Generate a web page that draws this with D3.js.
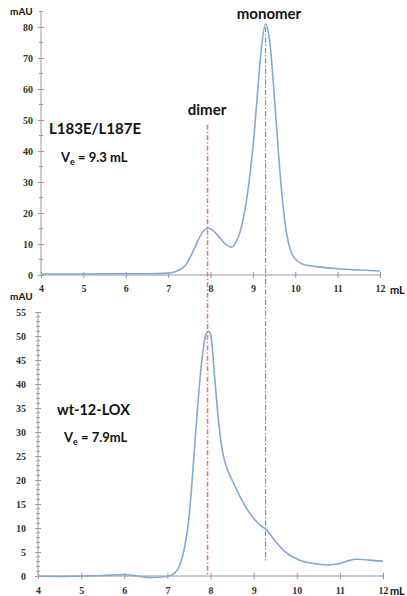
<!DOCTYPE html>
<html>
<head>
<meta charset="utf-8">
<script src="https://cdn.jsdelivr.net/npm/d3@7"></script>
<style>
  html, body { margin: 0; padding: 0; background: #fff; }
  svg { display: block; }
  .tick text { font-family: "Liberation Serif", "Times New Roman", serif; font-weight: bold; font-size: 10px; fill: #333; }
  .lab { font-family: Lato, "Open Sans", sans-serif; font-weight: bold; fill: #111; }
</style>
</head>
<body>
<script>
// Elution volume (mL) and absorbance (mAU) for the L183E/L187E mutant
const mutantVolume = [4.0, 5.0, 6.0, 6.5, 7.0, 7.2, 7.4, 7.55, 7.7, 7.8, 7.9, 7.95, 8.05, 8.2, 8.35, 8.5,
  8.6, 8.7, 8.8, 8.9, 9.0, 9.1, 9.2, 9.3, 9.4, 9.5, 9.6, 9.7, 9.8, 9.9, 10.0, 10.2, 10.5, 11.0, 11.5, 12.0];
const mutantAbs = [0.3, 0.3, 0.4, 0.4, 0.6, 1.2, 3.0, 6.5, 11.0, 13.5, 15.0, 15.1, 14.5, 12.3, 10.0, 9.0,
  10.5, 14, 20, 29, 41, 57, 73, 81, 75, 59, 40, 24, 13, 7.5, 5.2, 3.4, 2.7, 2.0, 1.6, 1.3];

// Elution volume (mL) and absorbance (mAU) for wild-type 12-LOX
const wtVolume = [4.0, 4.5, 5.0, 5.5, 6.0, 6.3, 6.6, 7.0, 7.15, 7.3, 7.4, 7.5, 7.6, 7.7, 7.8, 7.9, 7.95, 8.0,
  8.1, 8.2, 8.3, 8.4, 8.5, 8.7, 8.9, 9.1, 9.3, 9.5, 9.7, 9.9, 10.1, 10.4, 10.7, 11.0, 11.2, 11.4, 11.6, 11.8, 12.0];
const wtAbs = [0.0, -0.1, 0.0, 0.1, 0.3, 0.0, -0.3, -0.1, 0.5, 2.5, 6, 12, 23, 35, 45, 50.5, 51, 50.5,
  41, 31, 25, 22, 20, 16.3, 13.2, 11, 9.6, 7.3, 5.3, 4.0, 3.2, 2.6, 2.3, 2.6, 3.2, 3.5, 3.4, 3.2, 3.1];

// Axis ticks
const volumeTicks = [4, 5, 6, 7, 8, 9, 10, 11, 12];
const mutantMajorTicks = [0, 10, 20, 30, 40, 50, 60, 70, 80];
const mutantMinorTicks = [5, 15, 25, 35, 45, 55, 65, 75, 85];
const wtMajorTicks = [0, 5, 10, 15, 20, 25, 30, 35, 40, 45, 50, 55];
const wtMinorTicks = d3.range(0, 56).filter(v => v % 5 !== 0);

// Peak positions (mL)
const dimerVe = 7.93;
const monomerVe = 9.3;

const W = 407, H = 596;
const svg = d3.select("body").append("svg").attr("width", W).attr("height", H);

const axisColor = "#9a9a9a";
const lineColor = "#84a8d8";

function panel(cfg) {
  const x = d3.scaleLinear().domain([4, 12]).range(cfg.xRange);
  const y = d3.scaleLinear().domain([0, cfg.yMax]).range(cfg.yRange);
  const g = svg.append("g");

  // y axis: labelled major ticks and short minor ticks
  const yAx = g.append("g").attr("transform", `translate(${cfg.xRange[0]},0)`)
    .call(d3.axisLeft(y).tickValues(cfg.major).tickFormat(d3.format("d")).tickSize(3).tickPadding(cfg.yPad));
  yAx.select(".domain").remove();
  yAx.selectAll(".tick line").attr("x1", -3).attr("x2", 3).attr("stroke", axisColor);
  g.append("line").attr("x1", cfg.xRange[0]).attr("x2", cfg.xRange[0])
    .attr("y1", y(cfg.yTop)).attr("y2", y(0)).attr("stroke", axisColor);
  g.selectAll(".minor").data(cfg.minor.filter(v => v <= cfg.yTop)).join("line")
    .attr("x1", cfg.xRange[0] - 2).attr("x2", cfg.xRange[0] + 2)
    .attr("y1", d => y(d)).attr("y2", d => y(d)).attr("stroke", axisColor);

  // x axis with crossing ticks
  const xAx = g.append("g").attr("transform", `translate(0,${y(0)})`)
    .call(d3.axisBottom(x).tickValues(volumeTicks).tickFormat(d3.format("d")).tickSize(3).tickPadding(cfg.xPad));
  xAx.select(".domain").attr("stroke", axisColor).attr("d", `M${cfg.xRange[0]},0H${cfg.xRange[1]}`);
  xAx.selectAll(".tick line").attr("y1", -3).attr("y2", 3).attr("stroke", axisColor);

  // chromatogram trace
  const line = d3.line().x((d, i) => x(cfg.vol[i])).y(d => y(d)).curve(d3.curveMonotoneX);
  g.append("path").datum(cfg.abs).attr("d", line)
    .attr("fill", "none").attr("stroke", lineColor).attr("stroke-width", 1.6);

  // axis units
  g.append("text").attr("class", "lab").attr("x", cfg.mauX).attr("y", cfg.mauY)
    .attr("font-size", 10).text("mAU");
  g.append("text").attr("class", "lab").attr("x", cfg.xRange[1] + cfg.mlDx).attr("y", y(0) + cfg.mlDy)
    .attr("font-size", 11).text("mL");
  return { x, y };
}

const upper = panel({
  xRange: [41, 380], yRange: [275, 27], yMax: 80, yTop: 85,
  major: mutantMajorTicks, minor: mutantMinorTicks, vol: mutantVolume, abs: mutantAbs,
  yPad: 5, xPad: 7, mauX: 10, mauY: 15, mlDx: 10, mlDy: 19
});
const lower = panel({
  xRange: [38, 383], yRange: [576, 312], yMax: 55, yTop: 55,
  major: wtMajorTicks, minor: wtMinorTicks, vol: wtVolume, abs: wtAbs,
  yPad: 9, xPad: 8, mauX: 10, mauY: 300, mlDx: 7, mlDy: 19
});

// Dash-dot markers at the dimer and monomer elution volumes, spanning both panels
svg.append("line")
  .attr("x1", upper.x(dimerVe)).attr("x2", upper.x(dimerVe))
  .attr("y1", upper.y(48.5)).attr("y2", lower.y(0))
  .attr("stroke", "#e27d7d").attr("stroke-width", 1.6).attr("stroke-dasharray", "5,2,1.5,2");
svg.append("line")
  .attr("x1", upper.x(monomerVe)).attr("x2", upper.x(monomerVe))
  .attr("y1", upper.y(80)).attr("y2", lower.y(3))
  .attr("stroke", "#5aa85a").attr("stroke-width", 1.1).attr("stroke-dasharray", "5,2,1.5,2");

// Annotations
function label(x, y, size, txt, anchor) {
  return svg.append("text").attr("class", "lab").attr("x", x).attr("y", y)
    .attr("font-size", size).attr("text-anchor", anchor || "start").text(txt);
}
label(269, 19, 15, "monomer", "middle");
label(207, 115, 15, "dimer", "middle");
label(49, 134, 15, "L183E/L187E");
label(57, 415, 14.5, "wt-12-LOX");

function ve(x, y, value) {
  const t = svg.append("text").attr("class", "lab").attr("x", x).attr("y", y).attr("font-size", 13);
  t.append("tspan").text("V");
  t.append("tspan").attr("font-size", 9).attr("dy", 3).text("e");
  t.append("tspan").attr("dy", -3).text(value);
}
ve(61, 162, " = 9.3 mL");
ve(64, 442, " = 7.9mL");
</script>
</body>
</html>
